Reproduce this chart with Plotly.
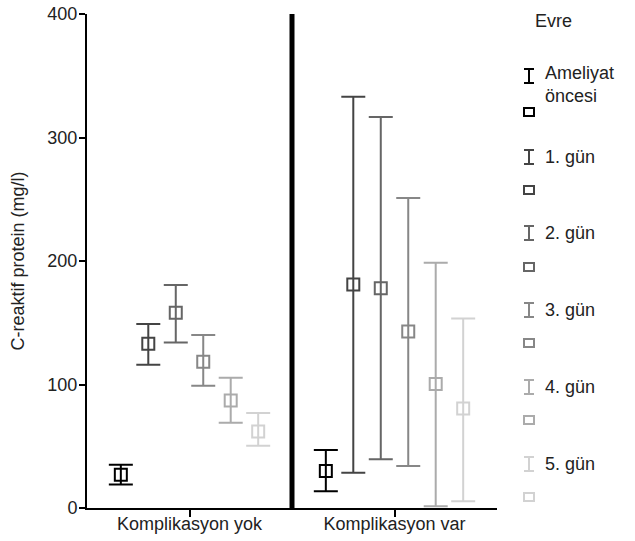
import plotly.graph_objects as go

groups = ["Komplikasyon yok", "Komplikasyon var"]
phases = ["Ameliyat<br>öncesi", "1. gün", "2. gün", "3. gün", "4. gün", "5. gün"]
colors = ["#000000", "#444444", "#666666", "#878787", "#ababab", "#d2d2d2"]

# means and error-bar limits per phase: [Komplikasyon yok, Komplikasyon var]
mean_vals = [[27, 30], [133, 181], [158, 178], [118.5, 143], [87, 100.5], [62, 80.5]]
hi_vals = [[35, 47], [149, 333], [180.5, 316.5], [140, 251], [105.5, 198.5], [77, 153.5]]
lo_vals = [[19, 13.5], [116, 28.5], [134, 39.5], [99, 34], [69, 1.5], [50.5, 5.5]]

FONT = "Liberation Sans, Arial, Helvetica, sans-serif"
TXT = "#222222"
FS = 18

fig = go.Figure()
step = 0.134
for i, ph in enumerate(phases):
    xs = [g + (i - 2.5) * step for g in range(len(groups))]
    m = mean_vals[i]
    fig.add_trace(go.Scatter(
        x=xs, y=m, mode="markers", name=ph, showlegend=False,
        marker=dict(symbol="square-open", size=12, color=colors[i], line=dict(width=2, color=colors[i])),
        error_y=dict(type="data", symmetric=False,
                     array=[h - v for h, v in zip(hi_vals[i], m)],
                     arrayminus=[v - l for l, v in zip(lo_vals[i], m)],
                     color=colors[i], thickness=2, width=12),
    ))

W, H = 635, 541
L, R, T, B = 87, 138, 14, 33
pw, ph_ = W - L - R, H - T - B

def px(xp):
    return (xp - L) / pw

def py(yp):
    return (H - B - yp) / ph_

shapes = [dict(type="line", xref="x", yref="y", x0=0.5, x1=0.5, y0=0, y1=400,
               line=dict(color="black", width=5))]
annotations = [dict(text="Evre", xref="paper", yref="paper", x=px(533), y=py(21),
                    xanchor="left", yanchor="middle", showarrow=False,
                    font=dict(family=FONT, size=FS, color=TXT))]

beam_y = [76, 157, 233, 310, 387, 464]
sq_y = [112, 190, 267, 343, 420, 497]
for i, ph in enumerate(phases):
    c = colors[i]
    cx = 529
    yc = beam_y[i]
    shapes.append(dict(type="line", xref="paper", yref="paper", x0=px(cx), x1=px(cx),
                       y0=py(yc - 7), y1=py(yc + 7), line=dict(color=c, width=2)))
    for yy in (yc - 7, yc + 7):
        shapes.append(dict(type="line", xref="paper", yref="paper", x0=px(cx - 5), x1=px(cx + 5),
                           y0=py(yy), y1=py(yy), line=dict(color=c, width=2)))
    sy = sq_y[i]
    shapes.append(dict(type="rect", xref="paper", yref="paper", x0=px(cx - 5), x1=px(cx + 5),
                       y0=py(sy - 4), y1=py(sy + 4), line=dict(color=c, width=2)))
    ty = yc + 9 if i == 0 else yc
    annotations.append(dict(text=ph, xref="paper", yref="paper", x=px(543), y=py(ty),
                            xanchor="left", yanchor="middle", align="left", showarrow=False,
                            font=dict(family=FONT, size=FS, color=TXT)))

fig.update_layout(
    width=W, height=H,
    margin=dict(l=L, r=R, t=T, b=B, pad=0, autoexpand=False),
    plot_bgcolor="white", paper_bgcolor="white",
    font=dict(family=FONT, size=FS, color=TXT),
    shapes=shapes, annotations=annotations,
    xaxis=dict(range=[-0.5, 1.5], tickmode="array", tickvals=[0, 1], ticktext=groups,
               automargin=False, ticklabelstandoff=-9,
               showgrid=False, zeroline=False, showline=True, linecolor="black", linewidth=2,
               ticks="outside", ticklen=7, tickwidth=2, tickcolor="black",
               tickfont=dict(family=FONT, size=FS, color=TXT)),
    yaxis=dict(range=[0, 400], tickvals=[0, 100, 200, 300, 400], automargin=False,
               ticklabelstandoff=-2,
               showgrid=False, zeroline=False, showline=True, linecolor="black", linewidth=2,
               ticks="outside", ticklen=6, tickwidth=2, tickcolor="black",
               tickfont=dict(family=FONT, size=FS, color=TXT),
               title=dict(text="C-reaktif protein (mg/l)", standoff=18,
                          font=dict(family=FONT, size=FS, color=TXT))),
)

fig.write_html("out.html")
